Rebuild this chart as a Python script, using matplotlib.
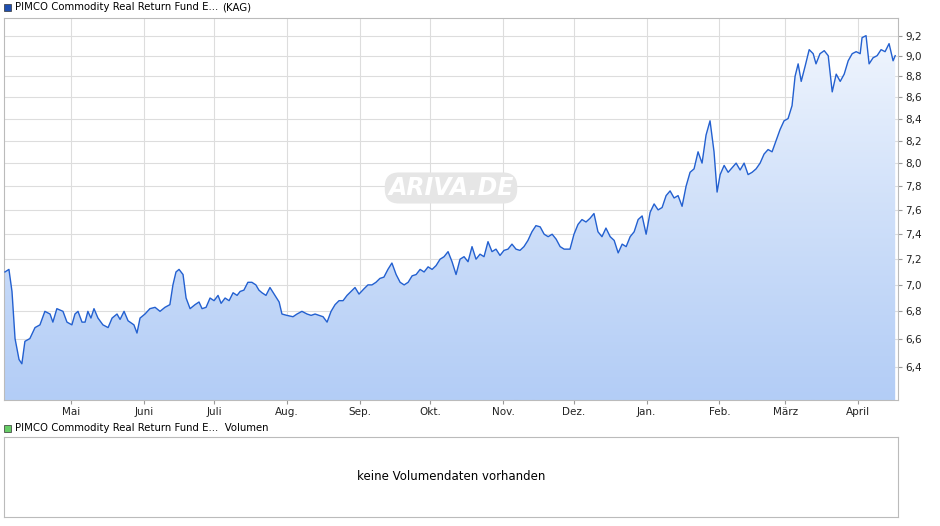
import matplotlib
matplotlib.use("Agg")
import matplotlib.pyplot as plt
import numpy as np
from matplotlib.patches import Polygon
from matplotlib.ticker import FixedLocator, NullLocator, FixedFormatter
from matplotlib.colors import LinearSegmentedColormap

# days since 1 May
days = [-28.1,-26.4,-25.1,-23.8,-22.1,-20.9,-19.6,-17.5,-15.3,-13.2,-11.1,-8.9,-7.7,-6.0,-3.4,-1.7,0.4,1.7,3.0,4.7,6.0,7.2,8.5,9.8,11.5,13.6,15.8,17.5,19.6,20.9,22.6,24.3,26.8,28.1,29.4,31.5,33.6,35.8,37.9,40.0,42.1,43.4,44.7,46.0,47.7,49.0,50.7,
52.8,54.5,55.8,57.5,59.2,60.9,62.6,63.9,65.6,67.3,69.0,70.7,72.0,73.6,75.3,77.0,78.7,80.0,81.3,83.0,84.7,86.8,88.6,89.8,91.9,94.5,96.2,98.3,100.5,102.2,103.9,105.6,107.3,109.0,110.7,112.4,114.1,115.8,
117.5,119.2,120.9,122.6,124.7,126.4,128.1,129.8,131.5,133.2,134.9,136.6,138.4,140.1,141.8,143.5,145.2,146.9,148.6,150.3,152.0,153.7,155.4,157.1,158.8,160.5,162.2,163.9,165.6,167.3,169.0,170.7,172.4,174.1,175.8,177.5,179.2,180.9,182.6,184.3,186.0,187.7,189.4,191.1,192.8,194.5,196.2,197.9,199.7,201.4,203.1,204.8,206.5,208.2,209.9,212.4,214.1,215.8,217.5,219.2,220.9,222.6,224.3,226.0,227.7,229.5,231.2,232.9,234.6,236.3,238.0,239.7,241.4,243.1,244.8,246.5,248.2,249.9,251.6,253.3,255.0,256.7,258.4,260.1,261.8,263.5,265.2,266.9,268.6,270.3,272.0,273.7,275.0,276.3,278.0,279.7,281.4,283.1,284.8,286.5,288.2,289.9,291.6,293.3,295.0,296.7,298.4,300.1,301.8,303.5,305.2,306.9,308.2,309.5,310.8,312.5,314.2,315.9,317.1,318.8,320.6,322.3,324.0,325.7,327.4,329.1,330.8,332.5,334.2,335.9,336.7,338.4,339.7,341.4,343.1,344.8,346.5,348.2,349.9,350.8]
values = [7.1,7.12,6.95,6.6,6.45,6.42,6.58,6.6,6.68,6.7,6.8,6.78,6.72,6.82,6.8,6.72,6.7,6.78,6.8,6.72,6.72,6.8,6.75,6.82,6.75,6.7,6.68,6.75,6.78,6.74,6.8,6.73,6.7,6.64,6.75,6.78,6.82,6.83,6.8,6.83,6.85,7.0,7.1,7.12,7.08,6.9,6.82,
6.85,6.87,6.82,6.83,6.9,6.88,6.92,6.86,6.9,6.88,6.94,6.92,6.95,6.96,7.02,7.02,7.0,6.96,6.94,6.92,6.98,6.92,6.87,6.78,6.77,6.76,6.78,6.8,6.78,6.77,6.78,6.77,6.76,6.72,6.8,6.85,6.88,6.88,
6.92,6.95,6.98,6.93,6.97,7.0,7.0,7.02,7.05,7.06,7.12,7.17,7.08,7.02,7.0,7.02,7.07,7.08,7.12,7.1,7.14,7.12,7.15,7.2,7.22,7.26,7.18,7.08,7.2,7.22,7.18,7.3,7.2,7.24,7.22,7.34,7.26,7.28,7.23,7.27,7.28,7.32,7.28,7.27,7.3,7.35,7.42,7.47,7.46,7.4,7.38,7.4,7.36,7.3,7.28,7.28,7.4,7.48,7.52,7.5,7.53,7.57,7.42,7.38,7.45,7.38,7.35,7.25,7.32,7.3,7.38,7.42,7.52,7.55,7.4,7.58,7.65,7.6,7.62,7.72,7.76,7.7,7.72,7.63,7.8,7.92,7.95,8.1,8.0,8.25,8.38,8.1,7.75,7.9,7.98,7.92,7.96,8.0,7.94,8.0,7.9,7.92,7.95,8.0,8.08,8.12,8.1,8.2,8.3,8.38,8.4,8.52,8.8,8.92,8.75,8.9,9.06,9.02,8.92,9.02,9.05,9.0,8.65,8.82,8.75,8.82,8.95,9.02,9.04,9.02,9.18,9.2,8.92,8.98,9.0,9.06,9.04,9.12,8.95,9.0]
month_days = [0,31,61,92,123,153,184,214,245,276,304,335]
month_labels = ["Mai","Juni","Juli","Aug.","Sep.","Okt.","Nov.","Dez.","Jan.","Feb.","März","April"]
yticks = [6.4,6.6,6.8,7.0,7.2,7.4,7.6,7.8,8.0,8.2,8.4,8.6,8.8,9.0,9.2]

plt.rcParams['font.family'] = ['DejaVu Sans']
fig = plt.figure(figsize=(9.4,5.26), dpi=100)
ax = fig.add_axes([4/940, 126/526, 894/940, 382/526])
ax.set_yscale('log')
x0, x1 = -28.5, 352
y0, y1 = 6.17, 9.38
ax.set_xlim(x0, x1); ax.set_ylim(y0, y1)

grad = np.linspace(0, 1, 256).reshape(-1, 1)
cm = LinearSegmentedColormap.from_list('g', ['#b3cdf6', '#f4f8fe'])
im = ax.imshow(grad, cmap=cm, aspect='auto', origin='lower',
               extent=[x0, x1, y0, y1], zorder=1)
poly = Polygon(list(zip(days, values)) + [(days[-1], y0), (days[0], y0)],
               closed=True, transform=ax.transData, facecolor='none', edgecolor='none')
ax.add_patch(poly)
im.set_clip_path(poly)
ax.plot(days, values, color='#2360d0', lw=1.0, zorder=3)

ax.yaxis.set_major_locator(FixedLocator(yticks))
ax.yaxis.set_minor_locator(NullLocator())
ax.yaxis.set_major_formatter(FixedFormatter([f"{v:.1f}".replace('.', ',') for v in yticks]))
ax.yaxis.tick_right()
ax.set_xticks(month_days)
ax.set_xticklabels(month_labels)
ax.tick_params(labelsize=7.5, length=3, color='#999999', colors='#222222', pad=2)
ax.grid(True, color='#dddddd', lw=0.8, zorder=0)
ax.set_axisbelow(True)
for s in ax.spines.values():
    s.set_color('#bbbbbb'); s.set_linewidth(0.8)
ax.text(0.5, 0.555, 'ARIVA.DE', transform=ax.transAxes, fontsize=17, fontstyle='italic',
        fontweight='bold', color='white', ha='center', va='center', zorder=2,
        bbox=dict(boxstyle='round,pad=0.15,rounding_size=0.6', fc='#e6e6e6', ec='none'))

fig.patches.append(plt.Rectangle((4/940, 1-11/526), 7/940, 7/526, transform=fig.transFigure,
                                 facecolor='#1f4fb0', edgecolor='#333333', lw=0.5))
fig.text(15/940, 1-7/526, 'PIMCO Commodity Real Return Fund E...', fontsize=7.3, va='center')
fig.text(222/940, 1-7/526, '(KAG)', fontsize=7.3, va='center')

ax2 = fig.add_axes([4/940, 9/526, 894/940, 80/526])
ax2.set_xticks([]); ax2.set_yticks([])
for s in ax2.spines.values():
    s.set_color('#bbbbbb'); s.set_linewidth(0.8)
ax2.text(0.5, 0.5, 'keine Volumendaten vorhanden', transform=ax2.transAxes,
         ha='center', va='center', fontsize=8.5)
fig.patches.append(plt.Rectangle((4/940, 1-432/526), 7/940, 7/526, transform=fig.transFigure,
                                 facecolor='#66cc66', edgecolor='#333333', lw=0.5))
fig.text(15/940, 1-428/526, 'PIMCO Commodity Real Return Fund E...  Volumen', fontsize=7.3, va='center')

fig.savefig('out.png', dpi=100)
